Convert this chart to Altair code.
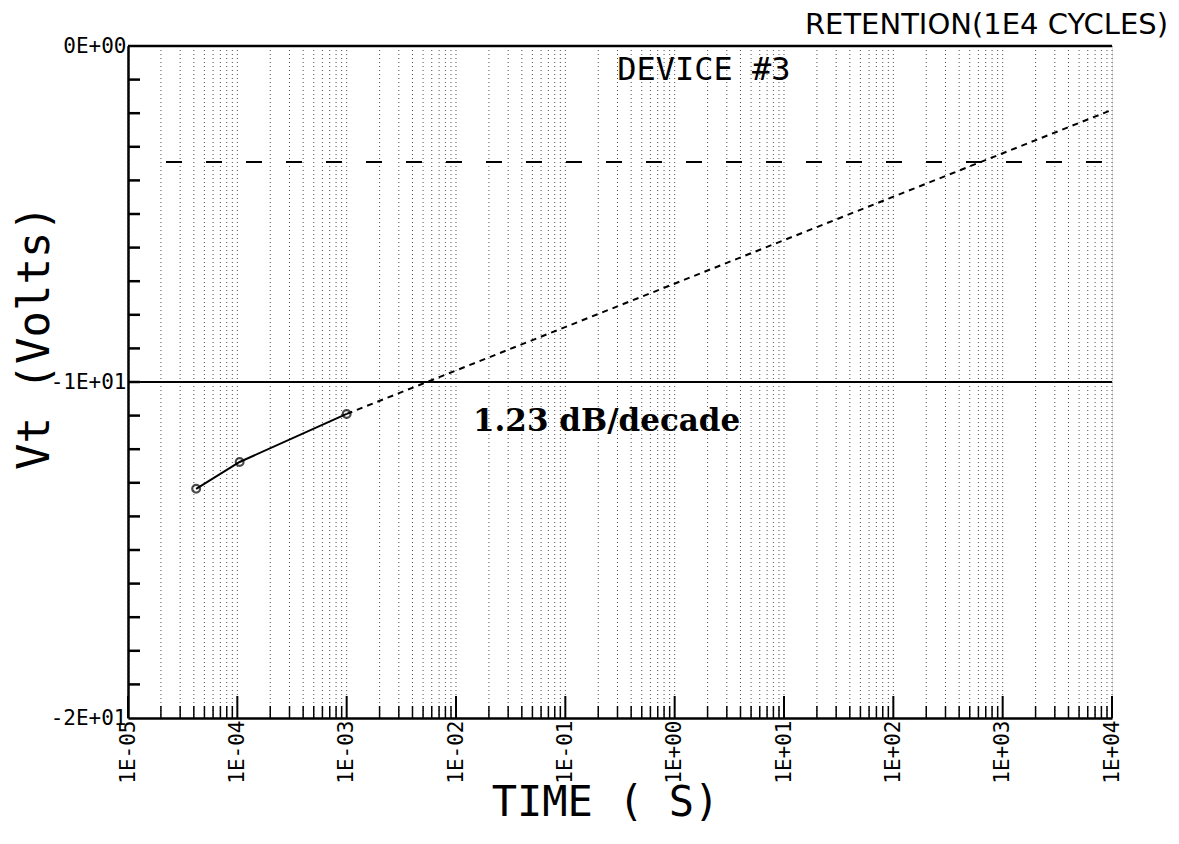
import altair as alt
import pandas as pd

# ---- data ----
meas_t = [4.2e-5, 1.05e-4, 1.0e-3]
meas_vt = [-13.18, -12.38, -10.95]

fit_t = [1.0e-3, 1.0e4]
fit_vt = [-10.95, -1.9]

ref_solid = [-10.0]
ref_dashed = [-3.45]
top_frame = [0.0]

decades = [-5, -4, -3, -2, -1, 0, 1, 2, 3, 4]
x_tick_labels = ["1E-05", "1E-04", "1E-03", "1E-02", "1E-01",
                 "1E+00", "1E+01", "1E+02", "1E+03", "1E+04"]
y_tick_values = [-20, -10, 0]
y_tick_labels = ["-2E+01", "-1E+01", "0E+00"]
y_minor = list(range(-19, 0))

ann_text = ["DEVICE #3", "1.23 dB/decade"]
ann_t = [0.298, 0.0143]
ann_vt = [-0.71, -11.19]

# ---- tables ----
major_x = [10.0 ** d for d in decades]
minor_x = [m * 10.0 ** d for d in decades[:-1] for m in range(2, 10)]
grid_df = pd.DataFrame({"t": major_x + minor_x})
major_df = pd.DataFrame({"t": major_x})
minor_df = pd.DataFrame({"t": minor_x})
ymin_df = pd.DataFrame({"v": y_minor})
meas_df = pd.DataFrame({"t": meas_t, "vt": meas_vt})
fit_df = pd.DataFrame({"t": fit_t, "vt": fit_vt})
solid_df = pd.DataFrame({"v": ref_solid})
dashed_df = pd.DataFrame({"v": ref_dashed})
top_df = pd.DataFrame({"v": top_frame})

x_scale = alt.Scale(type="log", domain=[1e-5, 1e4], nice=False)
y_scale = alt.Scale(domain=[-20, 0], nice=False, zero=False)

x_label_expr = "[" + ",".join("'%s'" % s for s in x_tick_labels) + "][round(log(datum.value)/LN10)+5]"
y_label_expr = "[" + ",".join("'%s'" % s for s in y_tick_labels) + "][round((datum.value+20)/10)]"

x_axis = alt.Axis(values=major_x, labelExpr=x_label_expr, grid=False, ticks=False,
                  labelAngle=270, labelFont="DejaVu Sans Mono", labelFontSize=21,
                  labelColor="black", labelPadding=2, domainColor="black", domainWidth=2.5,
                  title="TIME ( S)", titleFont="DejaVu Sans Mono", titleFontSize=42,
                  titleFontWeight="normal", titleColor="black", titleY=97, titleX=477,
                  titleAlign="center", titleBaseline="alphabetic")
y_axis = alt.Axis(values=y_tick_values, labelExpr=y_label_expr, grid=False, ticks=False,
                  labelFont="DejaVu Sans Mono", labelFontSize=21, labelColor="black",
                  labelPadding=2, labelBaseline="middle", domainColor="black", domainWidth=2.5,
                  title="Vt (Volts)", titleFont="DejaVu Sans Mono", titleFontSize=44,
                  titleFontWeight="normal", titleColor="black", titleAngle=270,
                  titleX=-93, titleY=291, titleAlign="center", titleBaseline="middle")

grid = alt.Chart(grid_df).mark_rule(color="#222", strokeWidth=1, strokeDash=[1, 3], opacity=0.8).encode(
    x=alt.X("t:Q", scale=x_scale, axis=x_axis),
    y=alt.value(0), y2=alt.value(672))

minor_ticks = alt.Chart(minor_df).mark_rule(color="black", strokeWidth=1.5).encode(
    x=alt.X("t:Q", scale=x_scale), y=alt.value(672), y2=alt.value(660))
major_ticks = alt.Chart(major_df).mark_rule(color="black", strokeWidth=2).encode(
    x=alt.X("t:Q", scale=x_scale), y=alt.value(672), y2=alt.value(650))
y_ticks = alt.Chart(ymin_df).mark_rule(color="black", strokeWidth=2.5).encode(
    y=alt.Y("v:Q", scale=y_scale, axis=y_axis), x=alt.value(0), x2=alt.value(12))

solid = alt.Chart(solid_df).mark_rule(color="black", strokeWidth=2).encode(
    y=alt.Y("v:Q", scale=y_scale), x=alt.value(0), x2=alt.value(984))
dashed = alt.Chart(dashed_df).mark_rule(color="black", strokeWidth=2, strokeDash=[16, 24]).encode(
    y=alt.Y("v:Q", scale=y_scale), x=alt.value(38), x2=alt.value(984))
top = alt.Chart(top_df).mark_rule(color="black", strokeWidth=2.5).encode(
    y=alt.Y("v:Q", scale=y_scale), x=alt.value(0), x2=alt.value(984))

fit = alt.Chart(fit_df).mark_line(color="black", strokeWidth=2, strokeDash=[6, 5]).encode(
    x=alt.X("t:Q", scale=x_scale), y=alt.Y("vt:Q", scale=y_scale))
meas_line = alt.Chart(meas_df).mark_line(color="black", strokeWidth=2).encode(
    x=alt.X("t:Q", scale=x_scale), y=alt.Y("vt:Q", scale=y_scale))
meas_pts = alt.Chart(meas_df).mark_point(color="black", filled=False, size=60, strokeWidth=2.2).encode(
    x=alt.X("t:Q", scale=x_scale), y=alt.Y("vt:Q", scale=y_scale))

dev_df = pd.DataFrame({"t": ann_t[:1], "vt": ann_vt[:1], "txt": ann_text[:1]})
slope_df = pd.DataFrame({"t": ann_t[1:], "vt": ann_vt[1:], "txt": ann_text[1:]})
dev_txt = alt.Chart(dev_df).mark_text(align="left", baseline="middle", font="DejaVu Sans Mono",
                                      fontSize=32, color="black").encode(
    x=alt.X("t:Q", scale=x_scale), y=alt.Y("vt:Q", scale=y_scale), text="txt:N")
slope_txt = alt.Chart(slope_df).mark_text(align="left", baseline="middle", font="DejaVu Serif",
                                          fontWeight="bold", fontSize=31, color="black").encode(
    x=alt.X("t:Q", scale=x_scale), y=alt.Y("vt:Q", scale=y_scale), text="txt:N")

chart = alt.layer(grid, minor_ticks, major_ticks, y_ticks, solid, dashed, top, fit,
                  meas_line, meas_pts, dev_txt, slope_txt).properties(
    width=984, height=672,
    autosize=alt.AutoSizeParams(type="none"),
    padding={"left": 120, "top": 38, "right": 59, "bottom": 110},
    title=alt.TitleParams("RETENTION(1E4 CYCLES)", anchor="end", frame="group", dx=56,
                          dy=19, offset=14, font="DejaVu Sans", fontSize=29,
                          fontWeight="normal", color="black"),
).configure_view(stroke=None).configure(background="white")

chart.save("out.html", embed_options={"renderer": "svg", "actions": False})
